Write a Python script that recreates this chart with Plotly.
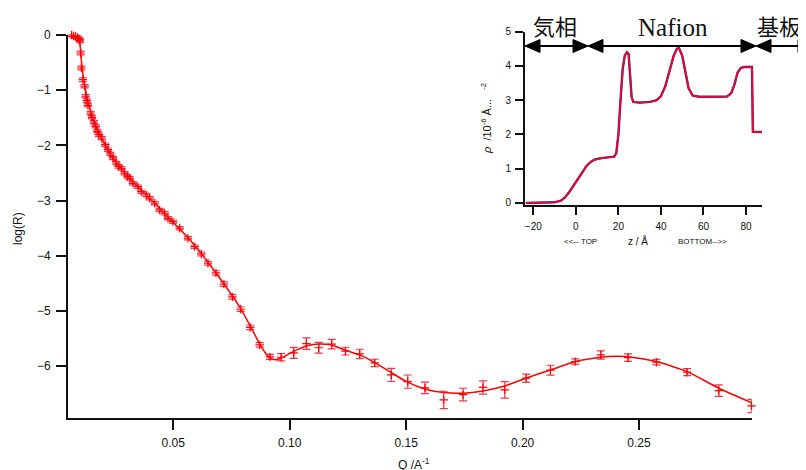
import plotly.graph_objects as go

# ---- main reflectivity data ----
q = [0.00636, 0.00722, 0.00808, 0.00894, 0.00958, 0.01000, 0.01022, 0.01052, 0.01121, 0.01194,
     0.01237, 0.01293, 0.01336, 0.01452, 0.01508, 0.01594, 0.01667, 0.01740, 0.01809, 0.01924,
     0.02083, 0.02195, 0.02298, 0.02410, 0.02556, 0.02655, 0.02770, 0.02912, 0.03040, 0.03127,
     0.03269, 0.03484, 0.03630, 0.03845, 0.03986, 0.04201, 0.04416, 0.04631, 0.04772, 0.04987,
     0.05275, 0.05631, 0.05919, 0.06207, 0.06491, 0.06834, 0.07174, 0.07539, 0.07895, 0.08303,
     0.08711, 0.09154, 0.09635, 0.10172, 0.10717, 0.11246, 0.11804, 0.12397, 0.13007, 0.13651,
     0.14360, 0.15069, 0.15812, 0.16615, 0.17444, 0.18303, 0.19235, 0.20159, 0.21198, 0.22264,
     0.23359, 0.24532, 0.25752, 0.27066, 0.28428, 0.29832]
log_r = [0.0, -0.018, -0.027, -0.045, -0.072, -0.109, -0.326, -0.598, -0.81, -0.929,
         -1.11, -1.19, -1.274, -1.413, -1.491, -1.576, -1.654, -1.745, -1.806, -1.866,
         -1.987, -2.078, -2.156, -2.228, -2.319, -2.382, -2.415, -2.505, -2.563, -2.596,
         -2.687, -2.748, -2.839, -2.899, -2.958, -3.049, -3.170, -3.230, -3.321, -3.382,
         -3.502, -3.683, -3.835, -3.967, -4.136, -4.312, -4.514, -4.746, -4.969, -5.299,
         -5.616, -5.833, -5.839, -5.761, -5.592, -5.667, -5.601, -5.728, -5.779, -5.942,
         -6.159, -6.281, -6.395, -6.612, -6.516, -6.386, -6.431, -6.219, -6.074, -5.918,
         -5.797, -5.846, -5.929, -6.110, -6.444, -6.721]
log_r_err = [0.03, 0.03, 0.03, 0.03, 0.03, 0.03, 0.035, 0.035, 0.035, 0.03,
             0.03, 0.03, 0.03, 0.03, 0.03, 0.03, 0.03, 0.03, 0.03, 0.03,
             0.03, 0.03, 0.03, 0.03, 0.03, 0.03, 0.03, 0.03, 0.03, 0.03,
             0.03, 0.03, 0.03, 0.03, 0.03, 0.03, 0.03, 0.03, 0.03, 0.03,
             0.03, 0.03, 0.03, 0.035, 0.035, 0.04, 0.04, 0.04, 0.04, 0.04,
             0.04, 0.045, 0.067, 0.10, 0.105, 0.097, 0.085, 0.07, 0.085, 0.067,
             0.12, 0.12, 0.105, 0.157, 0.115, 0.12, 0.15, 0.075, 0.09, 0.05,
             0.075, 0.067, 0.05, 0.063, 0.105, 0.12]

# ---- fitted curve ----
q_fit = [0.00636, 0.00808, 0.00936, 0.01000, 0.01044, 0.01108, 0.01194, 0.01323, 0.01495, 0.01710,
         0.01967, 0.02268, 0.02698, 0.03127, 0.03557, 0.03986, 0.04416, 0.04845, 0.05275, 0.05704,
         0.06134, 0.06564, 0.06993, 0.07423, 0.07852, 0.08282, 0.08711, 0.08926, 0.09141, 0.09399,
         0.09656, 0.10142, 0.10717, 0.11289, 0.11791, 0.12436, 0.13007, 0.13651, 0.14369, 0.15013,
         0.15829, 0.16615, 0.17444, 0.18303, 0.19235, 0.20137, 0.21198, 0.22272, 0.23359, 0.24033,
         0.24532, 0.25752, 0.27066, 0.28428, 0.29832]
log_r_fit = [-0.009, -0.036, -0.091, -0.199, -0.417, -0.670, -0.906, -1.178, -1.449, -1.685,
             -1.902, -2.138, -2.391, -2.591, -2.781, -2.958, -3.143, -3.333, -3.514, -3.705,
             -3.922, -4.158, -4.402, -4.656, -4.928, -5.254, -5.598, -5.743, -5.851, -5.884,
             -5.848, -5.737, -5.634, -5.598, -5.616, -5.719, -5.797, -5.937, -6.118, -6.281,
             -6.418, -6.480, -6.491, -6.449, -6.359, -6.219, -6.069, -5.918, -5.839, -5.821,
             -5.828, -5.918, -6.100, -6.400, -6.661]

# ---- SLD profile (inset) ----
z = [-23.5, -15, -10, -7, -5, -3, -1, 1, 3, 5, 7, 9, 12, 15, 18, 19, 20, 21, 22, 23,
     24, 24.8, 25.5, 26.2, 27, 30, 35, 38, 40, 42, 44, 46, 47.5, 48.5, 50, 51.5, 53, 55,
     58, 65, 71, 73, 74.5, 76, 77.5, 79, 82.8, 83.0, 83.2, 87.5]
rho = [0.0, 0.005, 0.02, 0.07, 0.17, 0.33, 0.52, 0.72, 0.92, 1.08, 1.2, 1.27, 1.31, 1.33, 1.35,
       1.45, 2.0, 3.0, 3.9, 4.3, 4.4, 4.35, 3.8, 3.1, 2.95, 2.93, 2.95, 3.0, 3.12, 3.4, 3.85,
       4.3, 4.5, 4.52, 4.3, 3.8, 3.35, 3.13, 3.1, 3.1, 3.11, 3.2, 3.45, 3.8, 3.94, 3.97, 3.97,
       3.0, 2.08, 2.07]

main_xticks = [0.05, 0.10, 0.15, 0.20, 0.25]
main_yticks = [0, -1, -2, -3, -4, -5, -6]
inset_xticks = [-20, 0, 20, 40, 60, 80]
inset_yticks = [0, 1, 2, 3, 4, 5]

RED = "#ff0000"
FONT = "Liberation Sans, Arial, sans-serif"

# figure geometry; the page body adds an 8px offset, compensated in the margins
W, H = 806, 470
OFF = 8
ML, MR, MT, MB = 60, 52, 22, 60
PW, PH = W - ML - MR, H - MT - MB


def px_x(px):
    """screen pixel x (as seen in the picture) -> paper fraction"""
    return (px - OFF - ML) / PW


def px_y(py):
    return (H - MB - (py - OFF)) / PH


fig = go.Figure()

fig.add_trace(go.Scatter(
    x=q_fit, y=log_r_fit, mode="lines", line=dict(color=RED, width=1.5, shape="spline", smoothing=0.6),
    xaxis="x", yaxis="y", showlegend=False, hoverinfo="skip", cliponaxis=False))
fig.add_trace(go.Scatter(
    x=q, y=log_r, mode="markers",
    marker=dict(symbol="cross-thin", size=6, line=dict(color=RED, width=1.2), color=RED),
    error_y=dict(type="data", array=log_r_err, visible=True, color="rgba(235,20,45,0.85)",
                 thickness=1.2, width=4),
    xaxis="x", yaxis="y", showlegend=False, cliponaxis=False))

fig.add_trace(go.Scatter(
    x=z, y=rho, mode="lines", line=dict(color="#2a2a9a", width=2.4),
    xaxis="x2", yaxis="y2", showlegend=False))
fig.add_trace(go.Scatter(
    x=z, y=rho, mode="lines", line=dict(color="#ff0022", width=1.6),
    xaxis="x2", yaxis="y2", showlegend=False))

axis_common = dict(showgrid=False, zeroline=False, showline=True, linecolor="#111",
                   ticks="outside", tickcolor="#111", mirror=False)

fig.update_layout(
    width=W, height=H,
    margin=dict(l=ML, r=MR, t=MT, b=MB, autoexpand=False),
    paper_bgcolor="white", plot_bgcolor="white",
    font=dict(family=FONT, color="#111", size=12),
    xaxis=dict(domain=[0, px_x(751.7)], range=[0.0048, 0.2984], tickvals=main_xticks,
               tickformat=".2f", linewidth=2, ticklen=10, tickwidth=1.5,
               ticklabelstandoff=3, tickfont=dict(size=12), anchor="y", **axis_common),
    yaxis=dict(domain=[0, px_y(35)], range=[-6.94, 0], tickvals=main_yticks,
               linewidth=2, ticklen=10, tickwidth=1.5, ticklabelstandoff=3,
               tickfont=dict(size=12), anchor="x", **axis_common),
    xaxis2=dict(domain=[px_x(525), 1.0], range=[-23.9, 87.5], tickvals=inset_xticks,
                linewidth=2, ticklen=8, tickwidth=1.5, ticklabelstandoff=3,
                tickfont=dict(size=10), anchor="y2", **axis_common),
    yaxis2=dict(domain=[px_y(204.7), px_y(31.7)], range=[-0.05, 5], tickvals=inset_yticks,
                linewidth=2, ticklen=8, tickwidth=1.5, ticklabelstandoff=2,
                tickfont=dict(size=10), anchor="x2", **axis_common),
)


def label(text, x, y, size, family=FONT, angle=0, yanchor="middle"):
    return dict(text=text, xref="paper", yref="paper", x=px_x(x), y=px_y(y),
                xanchor="center", yanchor=yanchor, textangle=angle, showarrow=False,
                font=dict(size=size, family=family, color="#111"))


annotations = [
    label("log(R)", 18, 229, 12, angle=-90),
    label("Q /A<sup>-1</sup>", 414, 454, 12, yanchor="top"),
    label("<i>ρ</i>&nbsp;&nbsp;/10<sup>-6</sup>&nbsp;Å...&nbsp;&nbsp;&nbsp;<sup>-2</sup>",
          486, 119, 11, angle=-90),
    label("&lt;&lt;--&nbsp;TOP", 580, 241.5, 8),
    label("z / Å", 638, 241, 10),
    label("BOTTOM--&gt;&gt;", 702, 241.5, 8),
    label("気相", 555, 25, 22, family="Noto Sans CJK JP"),
    label("Nafion", 673, 27, 25, family="Liberation Serif, DejaVu Serif, serif"),
    label("基板", 779, 25, 22, family="Noto Sans CJK JP"),
]
fig.update_layout(annotations=annotations)

# double-headed region arrows (screen pixel endpoints)
arrow_y = 46
head_len, head_half = 15, 6.5
arrows = [(525, 588), (588, 756), (756, 813)]
shapes = []
for a, b in arrows:
    shapes.append(dict(type="line", xref="paper", yref="paper",
                       x0=px_x(a + 5), y0=px_y(arrow_y), x1=px_x(b - 5), y1=px_y(arrow_y),
                       line=dict(color="#000", width=2)))
    for tip, d in ((a, 1), (b, -1)):
        base = tip + d * head_len
        path = "M {:.5f},{:.5f} L {:.5f},{:.5f} L {:.5f},{:.5f} Z".format(
            px_x(tip), px_y(arrow_y),
            px_x(base), px_y(arrow_y - head_half),
            px_x(base), px_y(arrow_y + head_half))
        shapes.append(dict(type="path", xref="paper", yref="paper", path=path,
                           fillcolor="#000", line=dict(color="#000", width=1)))
fig.update_layout(shapes=shapes)

fig.write_html("out.html")
